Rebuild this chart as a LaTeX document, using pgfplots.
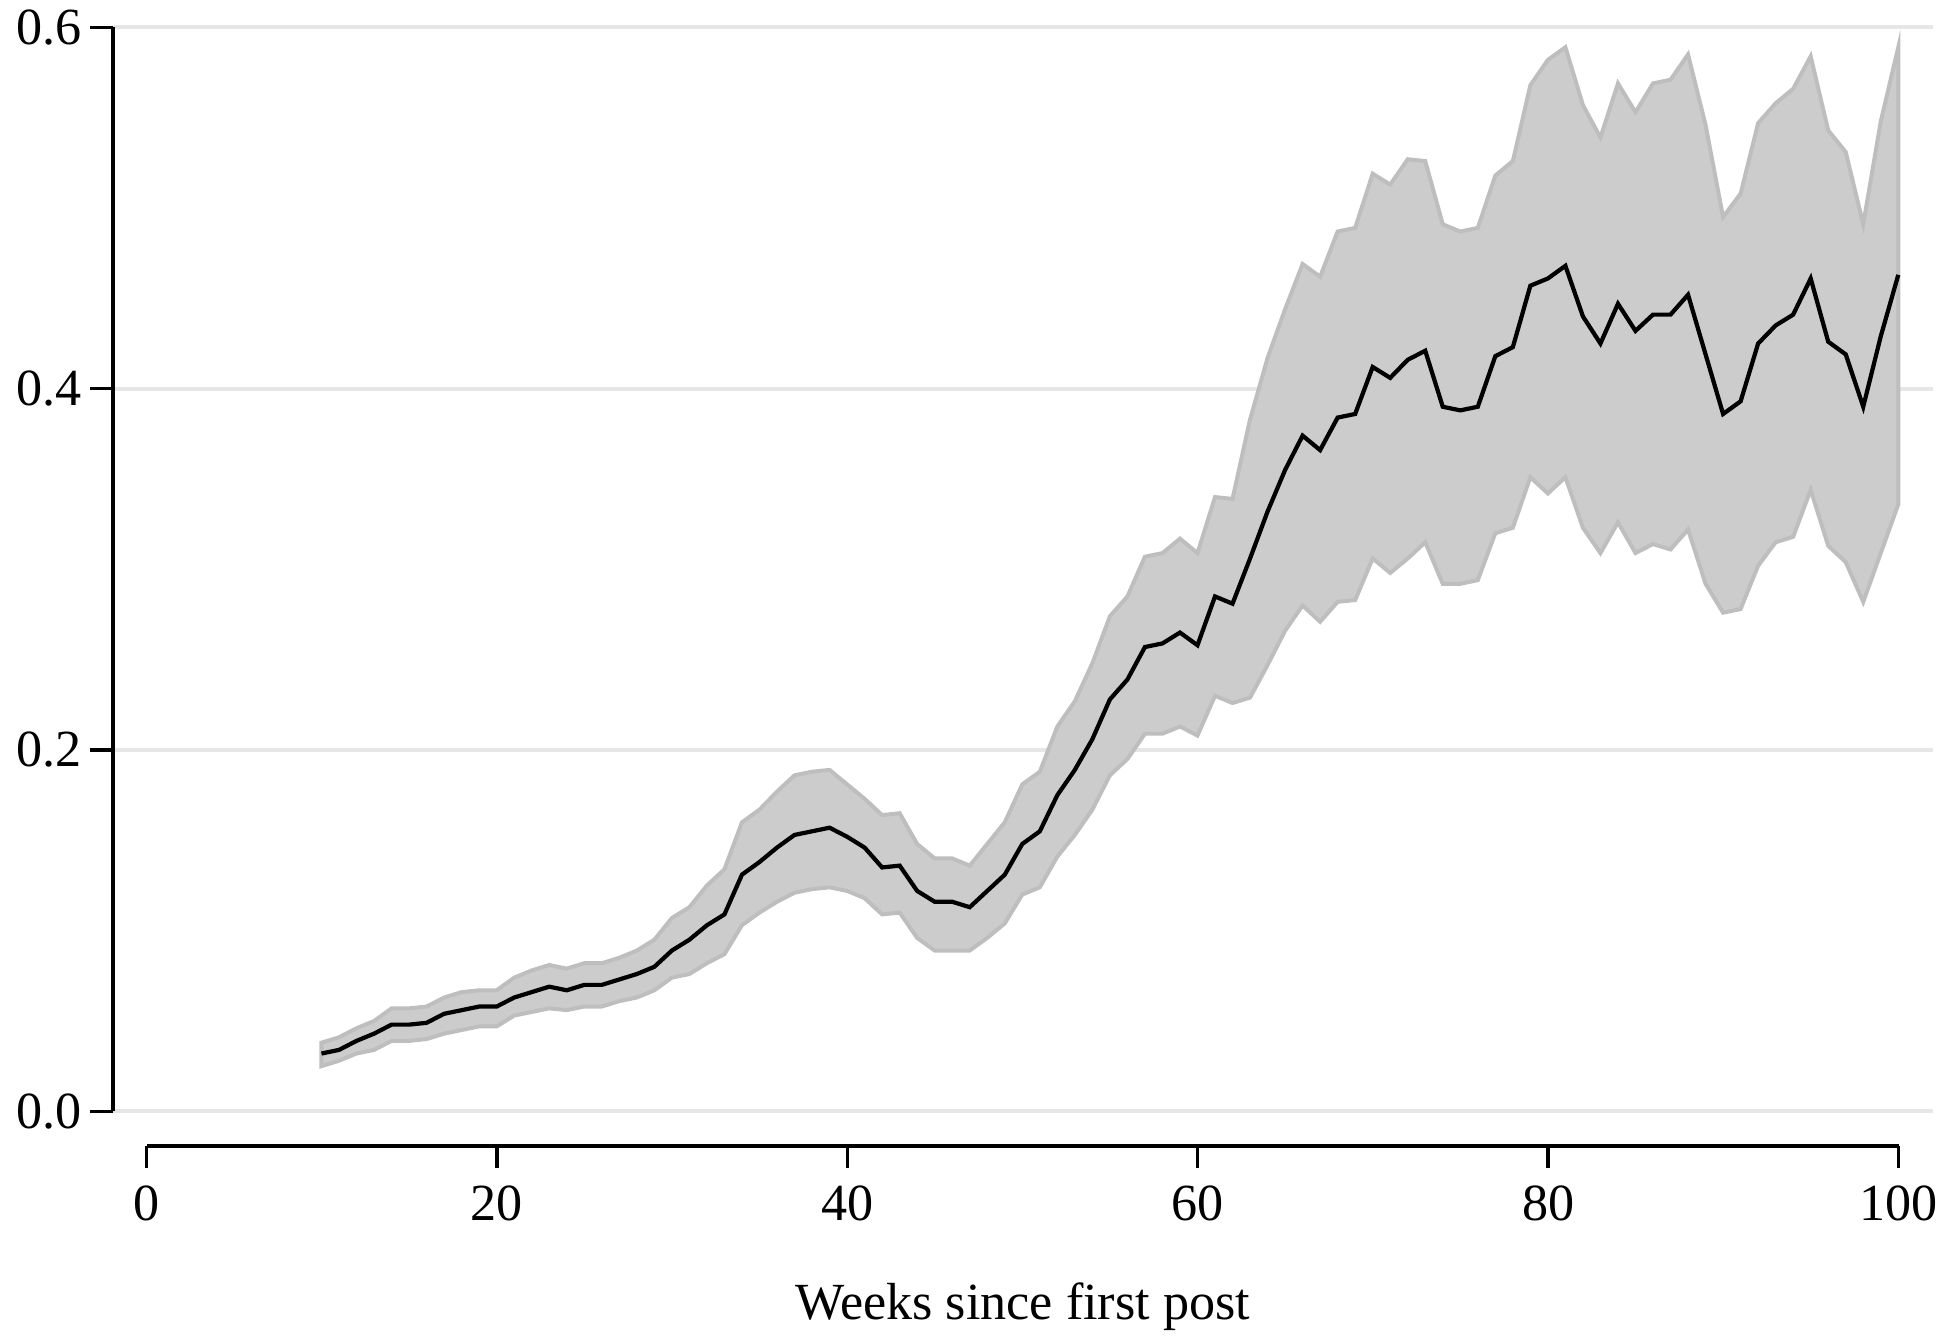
\documentclass[border=0pt]{standalone}
\usepackage{pgfplots}
\pgfplotsset{compat=1.18}
\usepackage{pgfplotstable}
\usepgfplotslibrary{fillbetween}
\usepackage{fontspec}
\setmainfont{Liberation Serif}
\definecolor{bandfill}{HTML}{CCCCCC}
\definecolor{bandedge}{HTML}{BEBEBE}
\definecolor{gridc}{HTML}{E6E6E6}
\pgfplotstableread{
w m lo hi
10 0.032 0.025 0.038
11 0.034 0.028 0.041
12 0.039 0.032 0.046
13 0.043 0.034 0.050
14 0.048 0.039 0.057
15 0.048 0.039 0.057
16 0.049 0.040 0.058
17 0.054 0.043 0.063
18 0.056 0.045 0.066
19 0.058 0.047 0.067
20 0.058 0.047 0.067
21 0.063 0.053 0.074
22 0.066 0.055 0.078
23 0.069 0.057 0.081
24 0.067 0.056 0.079
25 0.070 0.058 0.082
26 0.070 0.058 0.082
27 0.073 0.061 0.085
28 0.076 0.063 0.089
29 0.080 0.067 0.095
30 0.089 0.074 0.107
31 0.095 0.076 0.113
32 0.103 0.082 0.125
33 0.109 0.087 0.134
34 0.131 0.103 0.160
35 0.138 0.110 0.167
36 0.146 0.116 0.177
37 0.153 0.121 0.186
38 0.155 0.123 0.188
39 0.157 0.124 0.189
40 0.152 0.122 0.181
41 0.146 0.118 0.173
42 0.135 0.109 0.164
43 0.136 0.110 0.165
44 0.122 0.096 0.148
45 0.116 0.089 0.140
46 0.116 0.089 0.140
47 0.113 0.089 0.136
48 0.122 0.096 0.148
49 0.131 0.104 0.160
50 0.148 0.120 0.181
51 0.155 0.124 0.188
52 0.175 0.141 0.213
53 0.189 0.153 0.227
54 0.206 0.167 0.248
55 0.228 0.186 0.274
56 0.239 0.195 0.285
57 0.257 0.209 0.307
58 0.259 0.209 0.309
59 0.265 0.213 0.317
60 0.258 0.208 0.309
61 0.285 0.230 0.340
62 0.281 0.226 0.339
63 0.306 0.229 0.383
64 0.332 0.247 0.417
65 0.355 0.266 0.444
66 0.374 0.280 0.469
67 0.366 0.271 0.462
68 0.384 0.282 0.487
69 0.386 0.283 0.489
70 0.412 0.306 0.519
71 0.406 0.298 0.513
72 0.416 0.306 0.527
73 0.421 0.315 0.526
74 0.390 0.292 0.491
75 0.388 0.292 0.487
76 0.390 0.294 0.489
77 0.418 0.320 0.518
78 0.423 0.323 0.526
79 0.457 0.351 0.568
80 0.461 0.342 0.582
81 0.468 0.351 0.589
82 0.440 0.323 0.557
83 0.425 0.309 0.539
84 0.447 0.326 0.569
85 0.432 0.309 0.553
86 0.441 0.314 0.569
87 0.441 0.311 0.571
88 0.452 0.322 0.585
89 0.419 0.292 0.546
90 0.386 0.276 0.495
91 0.393 0.278 0.508
92 0.425 0.302 0.547
93 0.435 0.315 0.558
94 0.441 0.318 0.566
95 0.461 0.344 0.584
96 0.426 0.313 0.543
97 0.419 0.304 0.531
98 0.390 0.282 0.491
99 0.429 0.309 0.548
100 0.463 0.336 0.589
}\datatable
\begin{document}
\begin{tikzpicture}
\begin{axis}[
  name=A,
  scale only axis,
  width=366.5pt, height=218.25pt,
  at={(0,0)}, anchor=south west,
  xmin=-1.9, xmax=102,
  ymin=0, ymax=0.6,
  hide x axis,
  axis y line=left,
  y axis line style={-, line width=0.7pt},
  ytick={0,0.2,0.4,0.6},
  yticklabel style={/pgf/number format/fixed, /pgf/number format/fixed zerofill, /pgf/number format/precision=1, font=\fontsize{10.5}{12}\selectfont, inner sep=1.5pt},
  /pgf/number format/assume math mode=true,
  tick align=outside,
  major tick length=4.6pt,
  tick style={line width=0.7pt, black},
  ymajorgrids,
  grid style={gridc, line width=0.8pt},
]
\addplot[name path=up, draw=none, forget plot] table[x=w, y=hi] {\datatable};
\addplot[name path=lo, draw=none, forget plot] table[x=w, y=lo] {\datatable};
\addplot[fill=bandfill, draw=bandedge, line width=0.8pt] fill between[of=up and lo];
\addplot[black, line width=0.85pt] table[x=w, y=m] {\datatable};
\end{axis}
\begin{axis}[
  name=B,
  scale only axis,
  width=352.75pt, height=1pt,
  at={(6.75pt,-7pt)}, anchor=south west,
  xmin=0, xmax=100, ymin=0, ymax=1,
  hide y axis,
  axis x line=bottom,
  x axis line style={-, line width=0.7pt},
  xtick={0,20,40,60,80,100},
  /pgf/number format/assume math mode=true,
  xticklabel style={font=\fontsize{10.5}{12}\selectfont},
  tick align=outside,
  major tick length=4.4pt,
  tick style={line width=0.7pt, black},
  xlabel={Weeks since first post},
  xlabel style={at={(axis description cs:0.5,0)}, anchor=center, yshift=-32.25pt, font=\fontsize{10.5}{12}\selectfont},
]
\end{axis}
\pgfresetboundingbox
\path[use as bounding box] (-22.75pt,-45.25pt) rectangle (369.25pt,223.75pt);
\end{tikzpicture}
\end{document}
